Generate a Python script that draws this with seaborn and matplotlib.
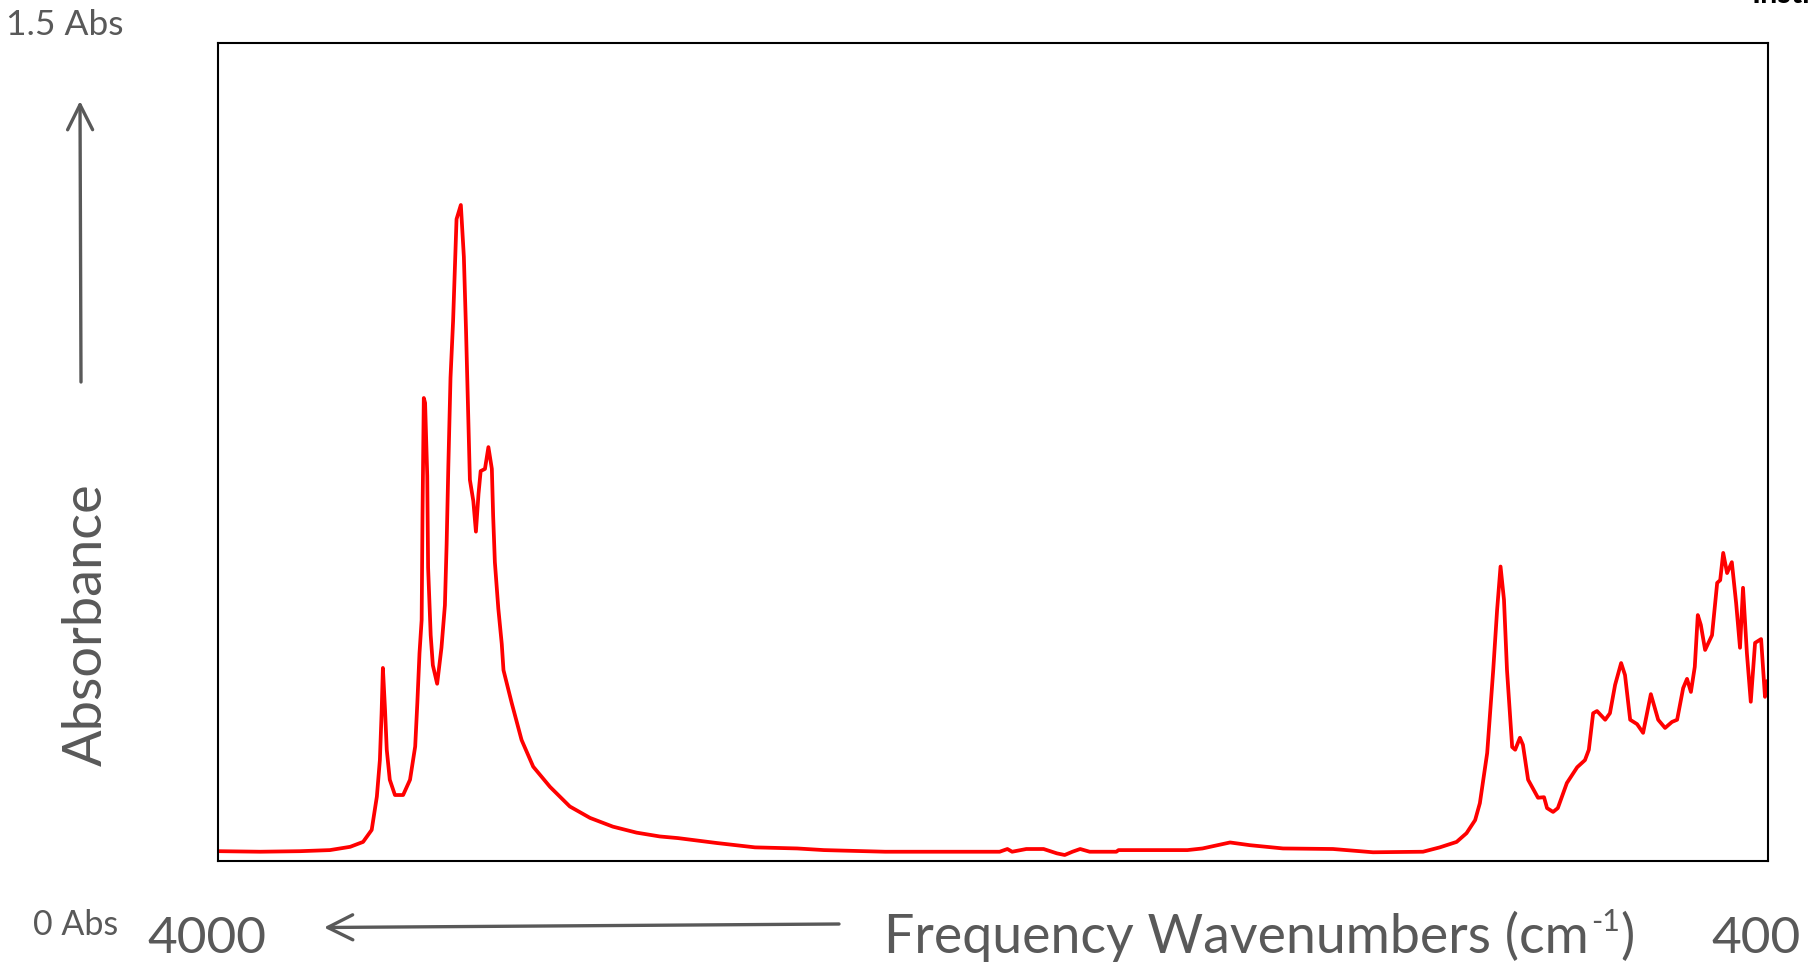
import matplotlib
matplotlib.use("Agg")
import matplotlib.pyplot as plt
import matplotlib.patches as mpatches
import seaborn as sns
import pandas as pd

# IR absorbance spectrum (wavenumber in cm-1, absorbance in Abs)
wavenumber = [
    3997, 3901, 3808, 3739, 3692, 3662, 3642, 3630, 3623, 3619, 3616, 3611, 3607,
    3600, 3588, 3569, 3553, 3541, 3536, 3531, 3526, 3524, 3521, 3518, 3513, 3511,
    3505, 3500, 3490, 3480, 3472, 3468, 3464, 3459, 3453, 3449, 3445, 3435, 3428,
    3423, 3418, 3414, 3406, 3400, 3394, 3389, 3379, 3371, 3363, 3360, 3356, 3348,
    3340, 3336, 3317, 3294, 3267, 3228, 3182, 3135, 3082, 3027, 2973, 2931, 2841,
    2752, 2654, 2592, 2450, 2184, 2166, 2155, 2122, 2082, 2051, 2033, 2015, 1997,
    1975, 1913, 1908, 1748, 1713, 1649, 1603, 1526, 1410, 1317, 1201, 1162, 1123,
    1100, 1080, 1069, 1052, 1038, 1029, 1021, 1013, 1006, 994, 987, 976, 969, 957,
    934, 920, 913, 899, 888, 867, 843, 825, 816, 806, 797, 778, 767, 755, 741, 732,
    720, 704, 690, 672, 655, 639, 623, 611, 597, 588, 579, 570, 563, 556, 546, 530,
    518, 511, 504, 495, 484, 474, 465, 458, 449, 440, 430, 416, 407, 402,
]
absorbance = [
    0.018, 0.017, 0.018, 0.020, 0.026, 0.035, 0.057, 0.118, 0.185, 0.271, 0.354,
    0.277, 0.204, 0.149, 0.121, 0.121, 0.149, 0.210, 0.290, 0.381, 0.442, 0.636,
    0.849, 0.840, 0.706, 0.538, 0.414, 0.359, 0.325, 0.391, 0.469, 0.581, 0.725,
    0.886, 0.990, 1.082, 1.177, 1.203, 1.108, 0.974, 0.823, 0.699, 0.660, 0.604,
    0.673, 0.715, 0.719, 0.759, 0.719, 0.633, 0.548, 0.463, 0.398, 0.350, 0.290,
    0.222, 0.173, 0.136, 0.100, 0.079, 0.063, 0.052, 0.045, 0.042, 0.033, 0.025,
    0.023, 0.020, 0.017, 0.017, 0.022, 0.017, 0.022, 0.022, 0.014, 0.011, 0.017,
    0.022, 0.017, 0.017, 0.020, 0.020, 0.023, 0.034, 0.029, 0.023, 0.022, 0.016,
    0.017, 0.025, 0.035, 0.051, 0.075, 0.106, 0.198, 0.350, 0.460, 0.540, 0.479,
    0.350, 0.209, 0.204, 0.226, 0.213, 0.149, 0.116, 0.117, 0.097, 0.090, 0.097,
    0.143, 0.172, 0.185, 0.204, 0.271, 0.275, 0.259, 0.271, 0.323, 0.363, 0.341,
    0.259, 0.251, 0.235, 0.306, 0.259, 0.244, 0.255, 0.259, 0.317, 0.334, 0.310,
    0.356, 0.451, 0.433, 0.387, 0.414, 0.510, 0.515, 0.565, 0.528, 0.548, 0.473,
    0.391, 0.501, 0.381, 0.292, 0.400, 0.407, 0.301, 0.330,
]

x_range = (4000, 400)
y_range = (0.0, 1.5)
x_labels = ("4000", "400")
y_labels = ("0 Abs", "1.5 Abs")
x_title = ("Frequency Wavenumbers (cm", "-1", ")")
y_title = "Absorbance"

spectrum = pd.DataFrame({"wavenumber": wavenumber, "absorbance": absorbance})

sns.set_style("white")
plt.rcParams["font.family"] = ["Lato", "DejaVu Sans"]

W, H = 1818, 966
fig = plt.figure(figsize=(W / 100, H / 100), dpi=100)
ax = fig.add_axes([217.5 / W, 1 - 861 / H, (1768 - 217.5) / W, (861 - 43) / H])

sns.lineplot(data=spectrum, x="wavenumber", y="absorbance", sort=False,
             color="#ff0000", linewidth=2.7, ax=ax)
ax.set_xlim(*x_range)
ax.set_ylim(*y_range)
ax.set_xticks([])
ax.set_yticks([])
ax.set_xlabel("")
ax.set_ylabel("")
for s in ax.spines.values():
    s.set_visible(True)
    s.set_color("black")
    s.set_linewidth(1.5)

grey = "#595959"


def fx(x):
    return x / W


def fy(y):
    return 1 - y / H


# value labels at the ends of the axes
fig.text(fx(6), fy(35), y_labels[1], fontsize=25.5, color=grey, ha="left", va="baseline")
fig.text(fx(33), fy(935), y_labels[0], fontsize=24.5, color=grey, ha="left", va="baseline")
fig.text(fx(147), fy(953), x_labels[0], fontsize=37, color=grey, ha="left", va="baseline")
fig.text(fx(1711), fy(953), x_labels[1], fontsize=37, color=grey, ha="left", va="baseline")
fig.text(fx(86), fy(625), y_title, fontsize=39, color=grey, rotation=90,
         ha="center", va="center")
fig.text(fx(1752), fy(3), "Instr", fontsize=22, fontweight="bold", color="black",
         ha="left", va="baseline")

# x title with a raised "-1" exponent
renderer = fig.canvas.get_renderer()
t_main = fig.text(fx(884), fy(953), x_title[0], fontsize=38.7, color=grey,
                  ha="left", va="baseline")
x_end = t_main.get_window_extent(renderer).x1
t_exp = fig.text((x_end + 2) / W, fy(953 - 22), x_title[1], fontsize=22, color=grey,
                 ha="left", va="baseline")
x_end2 = t_exp.get_window_extent(renderer).x1
fig.text((x_end2 + 1) / W, fy(953), x_title[2], fontsize=38.7, color=grey,
         ha="left", va="baseline")

# direction arrows
arrow = dict(arrowstyle="->,head_length=0.9,head_width=0.45", color=grey,
             lw=2.4, shrinkA=0, shrinkB=0, mutation_scale=20)
fig.add_artist(mpatches.FancyArrowPatch(
    (fx(81), fy(382)), (fx(80), fy(101)), transform=fig.transFigure, **arrow))
fig.add_artist(mpatches.FancyArrowPatch(
    (fx(839), fy(924)), (fx(324), fy(927.5)), transform=fig.transFigure, **arrow))

fig.savefig("out.png", dpi=100, facecolor="white")
